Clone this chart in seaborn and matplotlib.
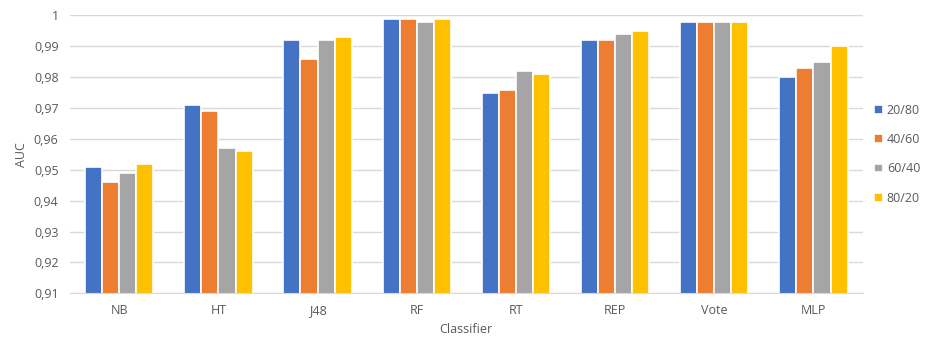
import pandas as pd
import matplotlib.pyplot as plt
import matplotlib.ticker as mticker
import seaborn as sns

classifiers = ['NB', 'HT', 'J48', 'RF', 'RT', 'REP', 'Vote', 'MLP']
splits = ['20/80', '40/60', '60/40', '80/20']
auc_20_80 = [0.951, 0.971, 0.992, 0.999, 0.975, 0.992, 0.998, 0.980]
auc_40_60 = [0.946, 0.969, 0.986, 0.999, 0.976, 0.992, 0.998, 0.983]
auc_60_40 = [0.949, 0.957, 0.992, 0.998, 0.982, 0.994, 0.998, 0.985]
auc_80_20 = [0.952, 0.956, 0.993, 0.999, 0.981, 0.995, 0.998, 0.990]
colors = ['#4472C4', '#ED7D31', '#A5A5A5', '#FFC000']

rows = []
for split, vals in zip(splits, [auc_20_80, auc_40_60, auc_60_40, auc_80_20]):
    for c, v in zip(classifiers, vals):
        rows.append({'Classifier': c, 'Split': split, 'AUC': v})
df = pd.DataFrame(rows)

sns.set_style('white')
plt.rcParams['font.family'] = ['Open Sans', 'DejaVu Sans']

fig, ax = plt.subplots(figsize=(9.29, 3.43), dpi=100)
fig.subplots_adjust(left=0.075, right=0.929, top=0.955, bottom=0.145)

sns.barplot(data=df, x='Classifier', y='AUC', hue='Split', order=classifiers,
            hue_order=splits, palette=colors, saturation=1, width=0.69,
            edgecolor='white', linewidth=1.2, ax=ax, errorbar=None)

ax.set_ylim(0.91, 1.0)
ax.yaxis.set_major_locator(mticker.MultipleLocator(0.01))
ax.yaxis.set_major_formatter(mticker.FuncFormatter(
    lambda v, p: ('%g' % round(v, 2)).replace('.', ',')))
ax.grid(axis='y', color='#D9D9D9', linewidth=1)
ax.set_axisbelow(True)
for s in ['top', 'right', 'left']:
    ax.spines[s].set_visible(False)
ax.spines['bottom'].set_color('#D9D9D9')
ax.tick_params(axis='both', length=0, labelsize=9, colors='#595959', pad=8)
ax.set_xlabel('Classifier', fontsize=9, color='#595959')
ax.set_ylabel('AUC', fontsize=9, color='#595959')

leg = ax.legend(loc='center left', bbox_to_anchor=(1.0, 0.5), frameon=False,
                fontsize=9, handlelength=0.7, handleheight=0.7,
                handletextpad=0.3, labelspacing=1.3)
for t in leg.get_texts():
    t.set_color('#595959')

fig.savefig('out.png', dpi=100)
